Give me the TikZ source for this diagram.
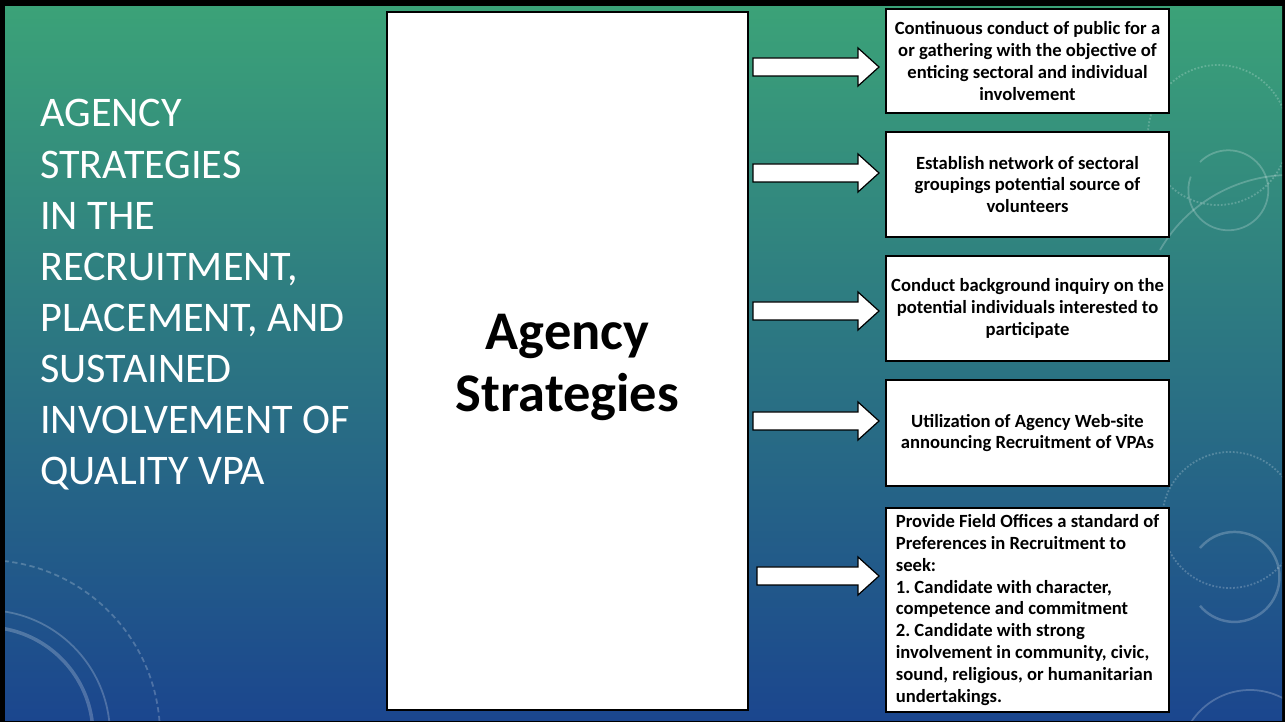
\documentclass[tikz,border=0pt]{standalone}
\usepackage{fontspec}
\setmainfont{Carlito}
\frenchspacing

\definecolor{slidegreen}{RGB}{59,162,120}
\definecolor{slideteal}{RGB}{38,116,128}
\definecolor{slideblue}{RGB}{27,70,142}

\begin{document}
\begin{tikzpicture}[x=0.02cm,y=-0.02cm,
  stepbox/.style={draw=black,fill=white,line width=0.7pt,minimum width=5.66cm,
    inner sep=0pt,font=\fontsize{10.6}{12.45}\selectfont\bfseries},
  hubbox/.style={draw=black,fill=white,line width=0.7pt,minimum width=7.22cm,
    minimum height=13.96cm},
  hubtext/.style={align=center,inner sep=0pt,font=\fontsize{31}{35.5}\selectfont\bfseries},
  slidetitle/.style={text=white,align=left,inner sep=0pt,font=\fontsize{24}{29.1}\selectfont},
  blockarrow/.style={draw=black,fill=white,line width=0.7pt,line join=miter},
  deco/.style={white,opacity=0.22,line width=1pt}]
% frame and background
\fill[black] (0,0) rectangle (1285,722);
\shade[top color=slidegreen,middle color=slideteal,bottom color=slideblue]
  (5,7) rectangle (1282,720);
\begin{scope}
\clip (5,7) rectangle (1282,720);
% faint rings
\draw[deco] (1200,162) arc (-135:200:40);
\draw[deco,densely dotted] (1218,135) circle (70);
\draw[deco,line width=1.4pt] (1200,548) arc (-140:140:45);
\draw[deco,densely dotted] (1230,520) circle (68);
\draw[deco] (1250,760) circle (70);
\draw[deco,line width=2pt] (-15,735) circle (108);
\draw[deco] (-15,735) circle (125);
\draw[deco,densely dashed] (-15,735) circle (175);
\draw[deco] (1160,250) arc (210:300:150);
\end{scope}
% title
\node[slidetitle,anchor=west] (title) at (40,295)
  {AGENCY\\STRATEGIES\\IN THE\\RECRUITMENT,\\PLACEMENT, AND\\SUSTAINED\\INVOLVEMENT OF\\QUALITY VPA};
% centre box
\node[hubbox] (hub) at (567.5,361) {};
\node[hubtext] (hublabel) at ([yshift=-0.13cm]hub.center) {Agency\\Strategies};
% strategy boxes
\node[stepbox,minimum height=2.08cm,align=center] (s1) at (1027.5,61)
  {Continuous conduct of public for a\\or gathering with the objective of\\enticing sectoral and individual\\involvement};
\node[stepbox,minimum height=2.10cm,align=center] (s2) at (1027.5,184.5)
  {Establish network of sectoral\\groupings potential source of\\volunteers};
\node[stepbox,minimum height=2.10cm,align=center] (s3) at (1027.5,308.5)
  {Conduct background inquiry on the\\potential individuals interested to\\participate};
\node[stepbox,minimum height=2.12cm,align=center] (s4) at (1027.5,433)
  {Utilization of Agency Web-site\\announcing Recruitment of VPAs};
\node[stepbox,minimum height=4.08cm,align=left] (s5) at (1027.5,610)
  {Provide Field Offices a standard of\\Preferences in Recruitment to\\seek:\\1. Candidate with character,\\competence and commitment\\2. Candidate with strong\\involvement in community, civic,\\sound, religious, or humanitarian\\undertakings.};
% block arrows
\foreach \y/\xs in {67/753,173/753,311/753,421/753,576/757}
  \draw[blockarrow] (\xs,\y-9) -- (858,\y-9) -- (858,\y-19) -- (879,\y)
    -- (858,\y+19) -- (858,\y+9) -- (\xs,\y+9) -- cycle;
\end{tikzpicture}
\end{document}
